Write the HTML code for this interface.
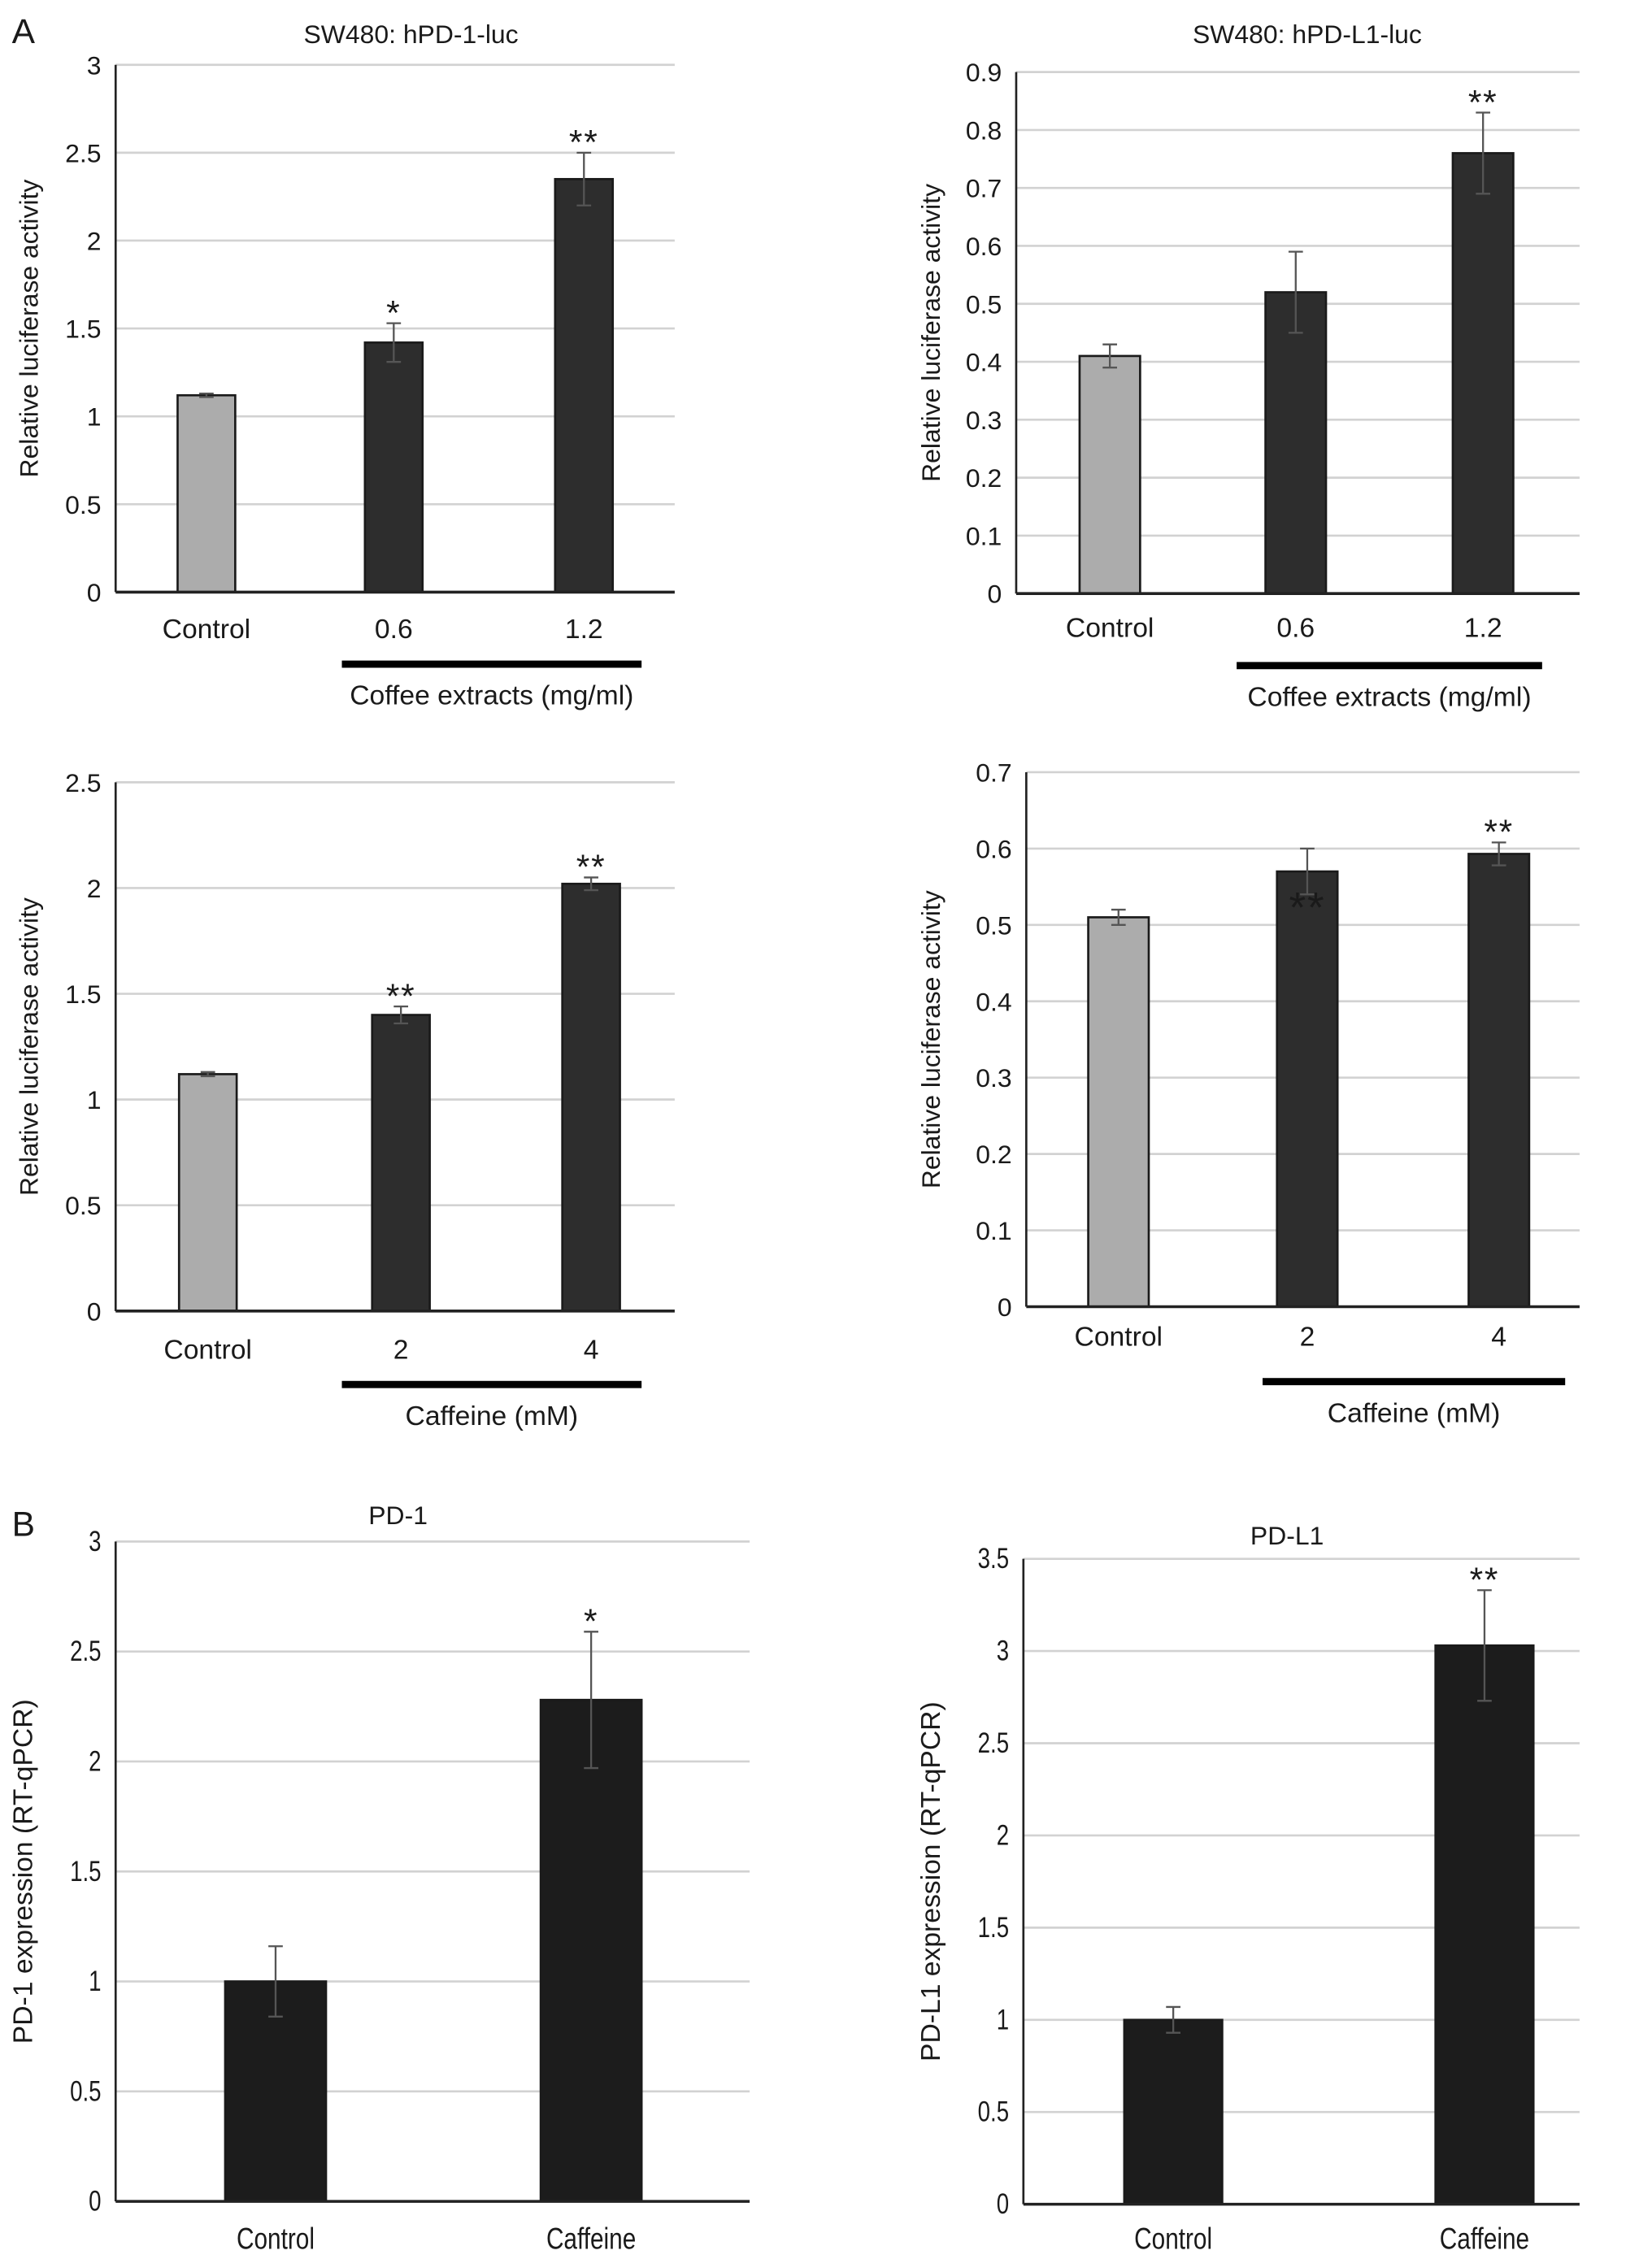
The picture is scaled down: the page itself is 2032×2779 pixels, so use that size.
<!DOCTYPE html>
<html><head><meta charset="utf-8"><style>
html,body{margin:0;padding:0;background:#fff}
svg{display:block}
text{font-family:"Liberation Sans",sans-serif;fill:#1a1a1a}
</style></head><body>
<svg id="fig" width="2032" height="2779" viewBox="0 0 1146 1568" xmlns="http://www.w3.org/2000/svg">
<text x="8" y="30" font-size="24">A</text>
<text x="8" y="1066" font-size="24">B</text>
</svg>
<script>
const p1Cats=["Control","0.6","1.2"], p1Vals=[1.12,1.42,2.35], p1Err=[0.01,0.11,0.15], p1Stars=["","*","**"], p1Ticks=[0,0.5,1,1.5,2,2.5,3];
const p2Cats=["Control","0.6","1.2"], p2Vals=[0.41,0.52,0.76], p2Err=[0.02,0.07,0.07], p2Stars=["","","**"], p2Ticks=[0,0.1,0.2,0.3,0.4,0.5,0.6,0.7,0.8,0.9];
const p3Cats=["Control","2","4"], p3Vals=[1.12,1.40,2.02], p3Err=[0.01,0.04,0.03], p3Stars=["","**","**"], p3Ticks=[0,0.5,1,1.5,2,2.5];
const p4Cats=["Control","2","4"], p4Vals=[0.51,0.57,0.593], p4Err=[0.01,0.03,0.015], p4Stars=["","",  "**"], p4Ticks=[0,0.1,0.2,0.3,0.4,0.5,0.6,0.7];
const p5Cats=["Control","Caffeine"], p5Vals=[1.0,2.28], p5Err=[0.16,0.31], p5Stars=["","*"], p5Ticks=[0,0.5,1,1.5,2,2.5,3];
const p6Cats=["Control","Caffeine"], p6Vals=[1.0,3.03], p6Err=[0.07,0.30], p6Stars=["","**"], p6Ticks=[0,0.5,1,1.5,2,2.5,3,3.5];

const NS="http://www.w3.org/2000/svg", svg=document.getElementById('fig');
function mk(tag,attrs,parent,txt){const e=document.createElementNS(NS,tag);for(const k in attrs)e.setAttribute(k,attrs[k]);if(txt!==undefined)e.textContent=txt;(parent||svg).appendChild(e);return e;}

function panel(o){
  const g=mk('g',{});
  
  
  const max=o.ticks[o.ticks.length-1];
  const y=v=>o.y0-(v/max)*(o.y0-o.yTop);
  const fs=o.cond?20:18;
  o.ticks.forEach(t=>{
    if(t>0){const l=mk('line',{x1:o.ax,x2:o.right,y1:y(t),y2:y(t),stroke:'#d2d2d2','stroke-width':1.5},g);
      
      }
    const tx=mk('text',{x:o.ax-10,y:y(t)+6.5,'font-size':fs,'text-anchor':'end',transform:o.cond?`translate(${o.ax-10},0) scale(0.78,1) translate(${-(o.ax-10)},0)`:''},g,String(t));
    
    
  });
  const ya=mk('line',{x1:o.ax,x2:o.ax,y1:o.yTop,y2:o.y0,stroke:'#222','stroke-width':1.5},g);
  
  
  o.vals.forEach((v,i)=>{
    const cx=o.centers[i], w=o.bw;
    const fill=o.fills?o.fills[i]:'#1c1c1c';
    const b=mk('rect',{x:cx-w/2,y:y(v),width:w,height:o.y0-y(v),fill:fill,stroke:'#1a1a1a','stroke-width':1.5},g);
    
    
    const e=o.err[i], eg=mk('g',{stroke:'#555','stroke-width':1.3},g);
    
    
    mk('line',{x1:cx,x2:cx,y1:y(v+e),y2:y(v-e)},eg);
    mk('line',{x1:cx-5,x2:cx+5,y1:y(v+e),y2:y(v+e)},eg);
    mk('line',{x1:cx-5,x2:cx+5,y1:y(v-e),y2:y(v-e)},eg);
    if(o.stars[i]){const s=mk('text',{x:cx,y:y(v+e)+1,'font-size':24,'letter-spacing':1,'text-anchor':'middle'},g,o.stars[i]);
      
      }
    const xl=mk('text',{x:cx,y:o.xly,'font-size':fs+1,'text-anchor':'middle',transform:o.cond?`translate(${cx},0) scale(0.8,1) translate(${-cx},0)`:''},g,o.cats[i]);
    
    
  });
  const xa=mk('line',{x1:o.ax,x2:o.right,y1:o.y0,y2:o.y0,stroke:'#222','stroke-width':2},g);
  
  
  if(o.title){const t=mk('text',{x:o.tx,y:o.ty,'font-size':18,'text-anchor':'middle'},g,o.title);
    
    }
  const yl=mk('text',{x:0,y:0,'font-size':o.cond?19:18,'text-anchor':'middle',transform:`translate(${o.ylx},${(o.yTop+o.y0)/2}) rotate(-90)`},g,o.ylabel);
  
  
  if(o.brk){const r=mk('rect',{x:o.brk[0],y:o.brk[2]-2.5,width:o.brk[1]-o.brk[0],height:5,fill:'#000'},g);
    
    
    const bt=mk('text',{x:(o.brk[0]+o.brk[1])/2,y:o.brk[2]+28,'font-size':19,'text-anchor':'middle'},g,o.brkLabel);
    
    }
  return {g,y};
}
const G='#acacac', D='#2d2d2d';
panel({name:'chart-hpd1-coffee',cats:p1Cats,vals:p1Vals,err:p1Err,stars:p1Stars,ticks:p1Ticks,ax:80,right:468,yTop:45,y0:411,centers:[143,273,405],bw:40,fills:[G,D,D],xly:443,title:'SW480: hPD-1-luc',tx:285,ty:30,ylabel:'Relative luciferase activity',ylx:26,brk:[237,445,461],brkLabel:'Coffee extracts (mg/ml)'});
panel({name:'chart-hpdl1-coffee',cats:p2Cats,vals:p2Vals,err:p2Err,stars:p2Stars,ticks:p2Ticks,ax:705,right:1096,yTop:50,y0:412,centers:[770,899,1029],bw:42,fills:[G,D,D],xly:442,title:'SW480: hPD-L1-luc',tx:907,ty:30,ylabel:'Relative luciferase activity',ylx:652,brk:[858,1070,462],brkLabel:'Coffee extracts (mg/ml)'});
panel({name:'chart-hpd1-caffeine',cats:p3Cats,vals:p3Vals,err:p3Err,stars:p3Stars,ticks:p3Ticks,ax:80,right:468,yTop:543,y0:910,centers:[144,278,410],bw:40,fills:[G,D,D],xly:943,ylabel:'Relative luciferase activity',ylx:26,brk:[237,445,961],brkLabel:'Caffeine (mM)'});
panel({name:'chart-hpdl1-caffeine',cats:p4Cats,vals:p4Vals,err:p4Err,stars:p4Stars,ticks:p4Ticks,ax:712,right:1096,yTop:536,y0:907,centers:[776,907,1040],bw:42,fills:[G,D,D],xly:934,ylabel:'Relative luciferase activity',ylx:652,brk:[876,1086,959],brkLabel:'Caffeine (mM)'});
const inner=mk('text',{x:907,y:640,'font-size':30,'letter-spacing':1,'text-anchor':'middle'},svg,'**');


panel({name:'chart-pd1-rtqpcr',cats:p5Cats,vals:p5Vals,err:p5Err,stars:p5Stars,ticks:p5Ticks,ax:80,right:520,yTop:1070,y0:1528,centers:[191,410],bw:70,xly:1561,title:'PD-1',tx:276,ty:1058,ylabel:'PD-1 expression (RT-qPCR)',ylx:22,cond:true});
panel({name:'chart-pdl1-rtqpcr',cats:p6Cats,vals:p6Vals,err:p6Err,stars:p6Stars,ticks:p6Ticks,ax:710,right:1096,yTop:1082,y0:1530,centers:[814,1030],bw:68,xly:1561,title:'PD-L1',tx:893,ty:1072,ylabel:'PD-L1 expression (RT-qPCR)',ylx:652,cond:true});
</script>
</body></html>
